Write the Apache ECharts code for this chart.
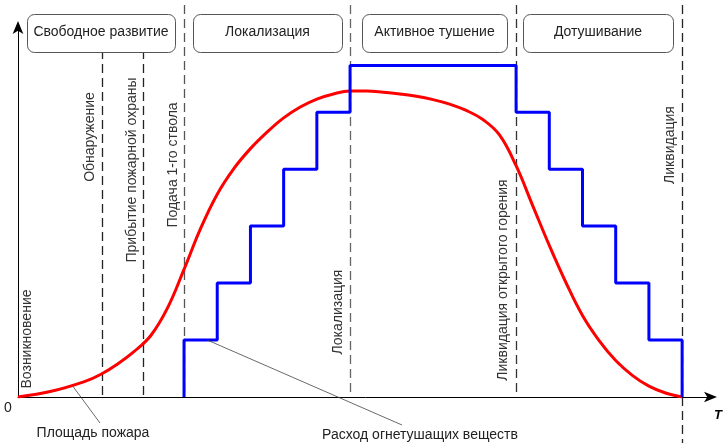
<!DOCTYPE html>
<html>
<head>
<meta charset="utf-8">
<script src="https://cdn.jsdelivr.net/npm/echarts@6/dist/echarts.min.js"></script>
<style>
  html, body { margin: 0; padding: 0; background: #fff; }
  #chart { width: 723px; height: 443px; }
</style>
</head>
<body>
<div id="chart"></div>
<script>
// время в условных единицах (1 = ширина ступеньки)
var fireTimes = [0, 1, 2, 2.5, 3, 3.5, 4, 4.5, 5, 5.5, 6, 6.5, 7, 7.5, 8, 8.5, 9, 9.5, 10, 10.5,
    11, 11.5, 12, 12.5, 13, 13.5, 14, 14.5, 15, 15.5, 16, 16.5, 17, 17.5, 18, 18.5, 19, 19.5, 20];
var fireArea = [0, 0.1, 0.27, 0.40, 0.58, 0.80, 1.08, 1.56, 2.24, 2.96, 3.56, 4.01, 4.36, 4.65,
    4.90, 5.09, 5.23, 5.32, 5.37, 5.37, 5.35, 5.32, 5.28, 5.22, 5.14, 5.03, 4.87, 4.60, 4.06,
    3.36, 2.66, 2.01, 1.43, 0.99, 0.64, 0.38, 0.19, 0.07, 0];
var agentTimes = [5, 5, 6, 7, 8, 9, 10, 15, 16, 17, 18, 19, 20];
var agentLevels = [0, 1, 2, 3, 4, 5, 5.82, 5, 4, 3, 2, 1, 0];

var eventNames = ['Возникновение', 'Обнаружение', 'Прибытие пожарной охраны', 'Подача 1-го ствола',
    'Локализация', 'Ликвидация открытого горения', 'Ликвидация'];
var eventTimes = [0, 2.53, 3.77, 5, 10, 15, 20];
var phaseNames = ['Свободное развитие', 'Локализация', 'Активное тушение', 'Дотушивание'];

var fireData = fireTimes.map(function (t, i) { return [t, fireArea[i]]; });
var agentData = agentTimes.map(function (t, i) { return [t, agentLevels[i]]; });

var dom = document.getElementById('chart');
var myChart = echarts.init(dom);
var option = {
    animation: false,
    grid: { left: 18, right: 10, top: 25, bottom: 46 },
    xAxis: {
        type: 'value', min: 0, max: 20.93,
        axisLine: { show: true, symbol: ['none', 'arrow'], symbolSize: [8, 13], symbolOffset: [0, 4],
            lineStyle: { color: '#000', width: 1 } },
        axisTick: { show: false }, axisLabel: { show: false }, splitLine: { show: false }
    },
    yAxis: {
        type: 'value', min: 0, max: 6.53,
        axisLine: { show: true, symbol: ['none', 'arrow'], symbolSize: [8, 13], symbolOffset: [0, 4],
            lineStyle: { color: '#000', width: 1 } },
        axisTick: { show: false }, axisLabel: { show: false }, splitLine: { show: false }
    },
    series: [
        {
            name: 'Площадь пожара', type: 'line', data: fireData, smooth: 0.4,
            showSymbol: false, lineStyle: { color: '#ff0000', width: 3 }, z: 3
        },
        {
            name: 'Расход огнетушащих веществ', type: 'line', data: agentData, step: 'end',
            showSymbol: false, lineStyle: { color: '#0000ff', width: 3 }, z: 4
        }
    ]
};
myChart.setOption(option);

function px(t, v) { return myChart.convertToPixel({ gridIndex: 0 }, [t, v]); }

var FONT = '14px "Liberation Sans", Arial, sans-serif';
var g = [];
var axisY = px(0, 0)[1];
// вертикальные пунктирные линии событий
var lineTops = [null, 50, 50, 5, 5, 5, 5];
var lineColors = [null, '#222', '#222', '#555', '#666', '#333', '#222'];
for (var i = 1; i < eventTimes.length; i++) {
    var x = Math.round(px(eventTimes[i], 0)[0]) + 0.5;
    var bottom = i === eventTimes.length - 1 ? 443 : axisY;
    g.push({
        type: 'line', z: 1,
        shape: { x1: x, y1: lineTops[i], x2: x, y2: bottom },
        style: { stroke: lineColors[i], lineWidth: 1.3, lineDash: [9, 5] }
    });
}
// подписи событий (повернуты)
var labelCenters = [[27, 339], [90, 137], [132, 170], [173, 165], [338, 312], [503, 280], [670, 145]];
for (var i = 0; i < eventNames.length; i++) {
    g.push({
        type: 'text', z: 10, x: labelCenters[i][0], y: labelCenters[i][1], rotation: Math.PI / 2,
        style: { text: eventNames[i], font: FONT, fill: '#333', align: 'center', verticalAlign: 'middle' }
    });
}
// блоки фаз
var boxes = [[27, 175], [193, 342], [362, 507], [523, 673]];
for (var i = 0; i < phaseNames.length; i++) {
    g.push({
        type: 'rect', z: 10,
        shape: { x: boxes[i][0] + 0.5, y: 14.5, width: boxes[i][1] - boxes[i][0], height: 38, r: 7 },
        style: { fill: '#fff', stroke: '#555', lineWidth: 1 }
    });
    g.push({
        type: 'text', z: 11, x: (boxes[i][0] + boxes[i][1]) / 2, y: 32,
        style: { text: phaseNames[i], font: FONT, fill: '#222', align: 'center', verticalAlign: 'middle' }
    });
}
// выноски
var p1 = px(1.65, 0.19);
g.push({ type: 'line', z: 5, shape: { x1: p1[0], y1: p1[1], x2: 100, y2: 423 },
    style: { stroke: '#444', lineWidth: 0.8 } });
g.push({ type: 'text', z: 10, x: 93, y: 433,
    style: { text: 'Площадь пожара', font: FONT, fill: '#222', align: 'center', verticalAlign: 'middle' } });
var p2 = px(5.7, 1);
g.push({ type: 'line', z: 5, shape: { x1: p2[0], y1: p2[1], x2: 402, y2: 425 },
    style: { stroke: '#444', lineWidth: 0.8 } });
g.push({ type: 'text', z: 10, x: 420, y: 435,
    style: { text: 'Расход огнетушащих веществ', font: FONT, fill: '#222', align: 'center', verticalAlign: 'middle' } });
g.push({ type: 'text', z: 10, x: 8, y: 408,
    style: { text: '0', font: FONT, fill: '#222', align: 'center', verticalAlign: 'middle' } });
g.push({ type: 'text', z: 10, x: 718, y: 415,
    style: { text: 'T', font: 'italic bold 13px "Liberation Sans", Arial, sans-serif',
        fill: '#000', align: 'center', verticalAlign: 'middle' } });

myChart.setOption({ graphic: g });
</script>
</body>
</html>
